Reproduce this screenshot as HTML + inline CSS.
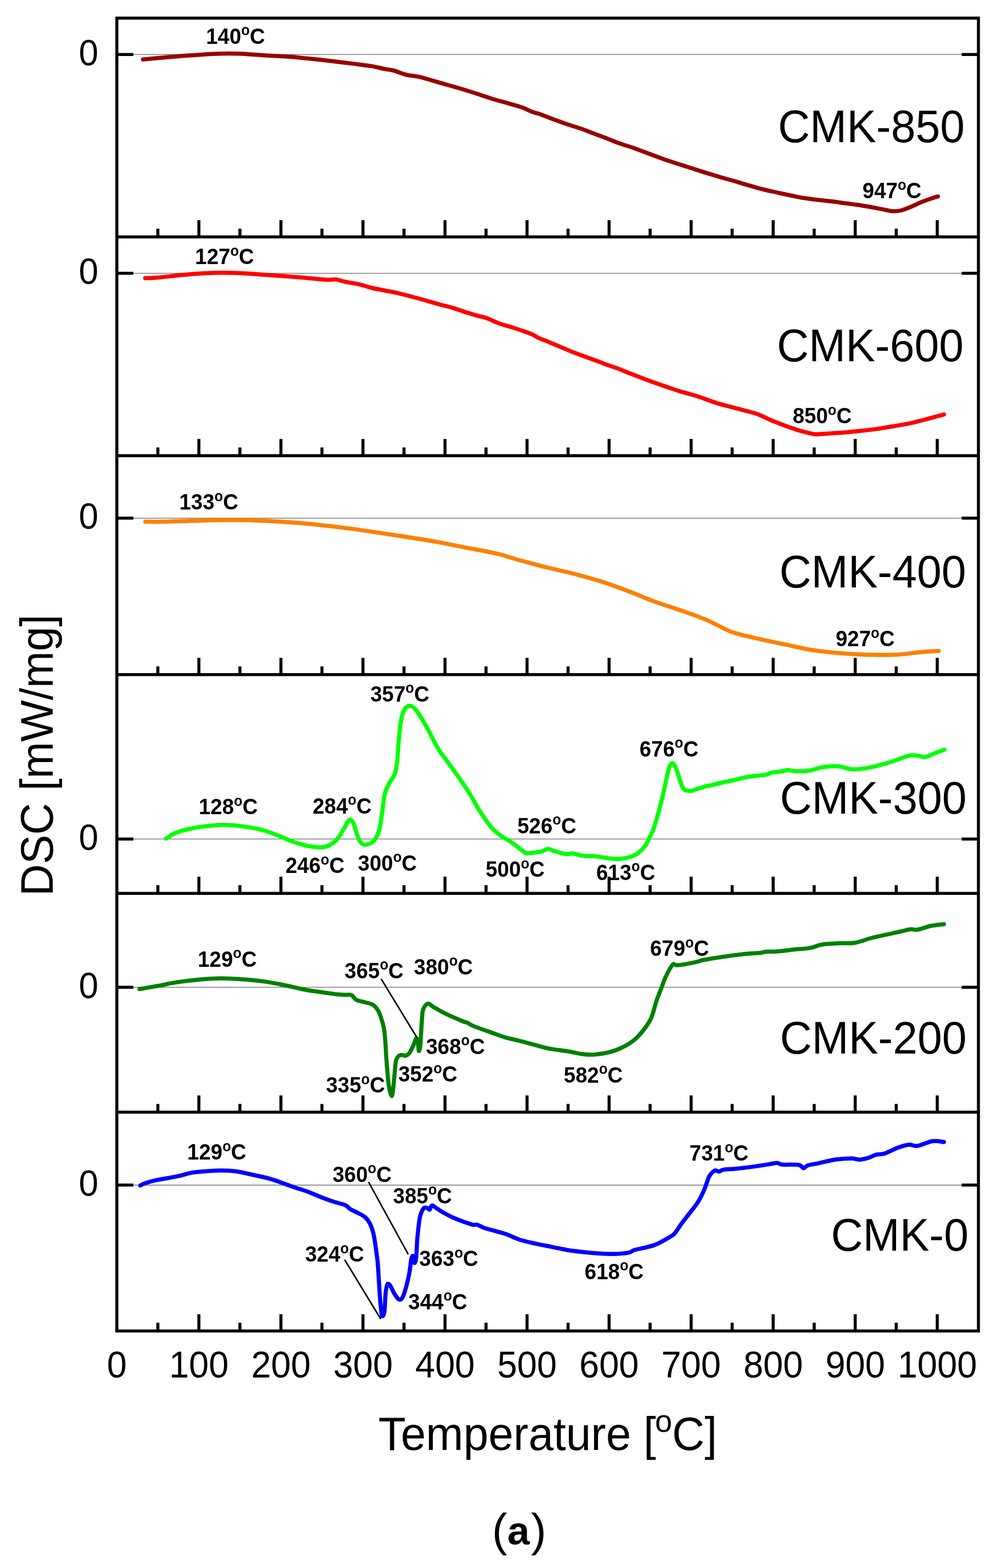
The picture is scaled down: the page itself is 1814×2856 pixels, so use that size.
<!DOCTYPE html><html><head><meta charset="utf-8"><title>DSC curves of CMK samples</title><style>html,body{margin:0;padding:0;background:#fff;}svg{display:block;}text{font-family:"Liberation Sans",Arial,sans-serif;}.b{font-weight:bold;font-size:39px;}</style></head><body><svg width="1814" height="2856" viewBox="0 0 1814 2856"><rect x="0" y="0" width="1814" height="2856" fill="#fff"/><line x1="212.8" y1="99.2" x2="1782.0" y2="99.2" stroke="#808080" stroke-width="1.6"/><line x1="212.8" y1="497.7" x2="1782.0" y2="497.7" stroke="#808080" stroke-width="1.6"/><line x1="212.8" y1="943.7" x2="1782.0" y2="943.7" stroke="#808080" stroke-width="1.6"/><line x1="212.8" y1="1528.2" x2="1782.0" y2="1528.2" stroke="#808080" stroke-width="1.6"/><line x1="212.8" y1="1798.2" x2="1782.0" y2="1798.2" stroke="#808080" stroke-width="1.6"/><line x1="212.8" y1="2158.6" x2="1782.0" y2="2158.6" stroke="#808080" stroke-width="1.6"/><path d="M260.5,108.3 C265.3,107.8 277.9,106.6 289.2,105.6 C300.5,104.6 315.4,103.2 328.5,102.2 C341.6,101.2 355.5,100.1 367.7,99.4 C379.9,98.7 390.8,98.1 401.7,97.8 C412.6,97.5 424.1,97.6 433.1,97.8 C442.2,98.0 448.2,98.5 456.0,99.0 C463.8,99.5 471.7,100.2 480.0,100.7 C488.3,101.2 497.3,101.6 506.0,102.1 C514.7,102.6 523.6,103.1 532.3,103.8 C541.0,104.5 549.3,105.4 558.0,106.3 C566.7,107.2 575.6,108.1 584.6,109.1 C593.6,110.1 602.8,111.1 612.0,112.2 C621.2,113.3 633.0,114.7 640.0,115.6 C647.0,116.5 647.9,116.7 654.2,117.5 C660.5,118.3 669.9,119.2 677.7,120.6 C685.6,122.0 694.8,124.5 701.3,125.8 C707.8,127.1 710.5,126.8 717.0,128.5 C723.5,130.2 732.7,134.4 740.5,136.3 C748.3,138.2 754.1,137.8 764.0,140.2 C773.9,142.5 785.8,146.3 800.0,150.4 C814.2,154.5 832.3,159.4 849.0,164.5 C865.7,169.6 887.1,177.0 900.0,181.0 C912.9,185.0 917.5,185.8 926.2,188.3 C934.9,190.8 945.3,193.7 952.3,196.2 C959.3,198.7 963.1,201.5 968.0,203.3 C972.9,205.2 975.5,205.2 981.6,207.3 C987.7,209.4 996.4,213.0 1004.6,216.0 C1012.8,219.0 1021.6,222.3 1030.8,225.5 C1040.0,228.7 1052.4,232.4 1060.0,235.0 C1067.6,237.6 1069.2,238.7 1076.2,241.3 C1083.2,244.0 1093.6,247.6 1102.3,250.9 C1111.0,254.2 1119.8,258.2 1128.5,261.3 C1137.2,264.4 1145.9,266.6 1154.6,269.7 C1163.3,272.8 1172.1,276.3 1180.8,279.6 C1189.5,282.9 1198.3,286.2 1207.0,289.3 C1215.7,292.4 1224.4,295.2 1233.1,298.0 C1241.8,300.8 1250.6,303.5 1259.3,306.3 C1268.0,309.1 1276.7,312.0 1285.4,314.7 C1294.1,317.4 1302.9,320.1 1311.6,322.6 C1320.3,325.1 1329.1,327.4 1337.8,329.9 C1346.5,332.4 1355.2,335.2 1363.9,337.7 C1372.6,340.2 1381.4,342.8 1390.1,345.0 C1398.8,347.2 1406.3,348.6 1416.3,350.8 C1426.3,353.0 1441.3,356.4 1450.0,358.1 C1458.7,359.9 1462.2,360.4 1468.3,361.3 C1474.4,362.2 1479.0,362.8 1486.6,363.7 C1494.2,364.6 1504.9,365.7 1514.1,366.8 C1523.3,367.9 1532.4,369.3 1541.6,370.5 C1550.8,371.7 1559.8,372.8 1569.0,374.2 C1578.2,375.6 1588.9,377.7 1596.5,379.1 C1604.1,380.5 1609.6,381.9 1614.8,382.8 C1620.0,383.8 1623.0,384.8 1627.6,384.8 C1632.2,384.8 1636.8,384.5 1642.3,383.0 C1647.8,381.5 1654.5,378.5 1660.6,376.0 C1666.7,373.5 1672.8,370.2 1678.9,367.8 C1685.0,365.4 1692.3,363.0 1697.2,361.3 C1702.1,359.6 1706.4,358.3 1708.2,357.7" fill="none" stroke="#980000" stroke-width="7.5" stroke-linecap="round" stroke-linejoin="round"/><path d="M264.4,506.7 C268.5,506.5 278.5,506.3 289.2,505.4 C299.9,504.5 315.4,502.4 328.5,501.2 C341.6,500.0 354.6,498.8 367.7,498.1 C380.8,497.4 393.9,496.8 407.0,496.8 C420.1,496.8 433.1,497.5 446.2,498.1 C459.3,498.8 472.3,499.8 485.4,500.7 C498.5,501.6 512.3,502.6 524.7,503.6 C537.1,504.6 548.4,505.5 560.0,506.5 C571.6,507.5 585.9,509.2 594.5,509.6 C603.1,510.0 606.7,508.7 611.8,509.1 C616.9,509.6 620.5,511.3 625.0,512.3 C629.5,513.3 633.6,514.2 638.5,515.1 C643.4,516.0 647.7,516.3 654.2,517.9 C660.7,519.5 670.1,522.6 677.7,524.5 C685.3,526.4 692.1,527.4 700.0,529.0 C707.9,530.6 714.1,531.4 724.8,533.9 C735.5,536.4 751.5,540.8 764.0,544.2 C776.5,547.6 790.1,551.7 800.0,554.4 C809.9,557.1 815.6,558.1 823.5,560.4 C831.4,562.7 839.2,565.8 847.1,568.3 C855.0,570.8 863.8,573.3 870.6,575.3 C877.4,577.2 882.7,578.2 887.9,580.0 C893.1,581.8 897.5,584.5 902.0,586.3 C906.5,588.1 909.4,589.3 914.6,591.0 C919.8,592.7 926.3,594.3 933.4,596.5 C940.5,598.7 951.0,602.3 957.0,604.4 C963.0,606.5 965.6,607.3 969.5,609.1 C973.4,610.9 976.0,613.2 980.5,615.3 C985.0,617.4 993.0,620.3 996.2,621.6 C999.5,622.9 995.5,621.3 1000.0,623.2 C1004.5,625.1 1015.6,629.7 1023.5,633.0 C1031.3,636.3 1039.2,639.7 1047.1,642.8 C1054.9,645.9 1062.8,648.5 1070.6,651.4 C1078.4,654.3 1089.3,658.2 1094.2,660.0 C1099.1,661.8 1095.1,660.6 1100.0,662.4 C1104.9,664.2 1115.7,667.7 1123.5,670.6 C1131.3,673.5 1139.2,677.0 1147.1,680.0 C1154.9,683.0 1162.8,685.9 1170.6,688.9 C1178.4,691.9 1186.3,694.9 1194.2,697.7 C1202.1,700.5 1209.9,703.2 1217.7,705.9 C1225.5,708.5 1232.6,711.0 1241.3,713.6 C1250.0,716.2 1259.3,718.4 1270.0,721.8 C1280.7,725.2 1293.5,730.5 1305.3,734.1 C1317.1,737.7 1328.8,740.5 1340.6,743.6 C1352.4,746.8 1368.2,750.6 1376.0,753.0 C1383.8,755.4 1381.8,755.2 1387.7,757.7 C1393.6,760.2 1400.9,764.2 1411.3,768.3 C1421.7,772.4 1440.3,779.2 1450.0,782.4 C1459.7,785.6 1463.4,786.3 1469.2,787.7 C1475.0,789.1 1478.4,790.7 1484.9,791.0 C1491.5,791.3 1499.7,790.2 1508.5,789.7 C1517.3,789.2 1528.1,788.5 1537.9,787.7 C1547.7,786.9 1557.5,785.8 1567.3,784.7 C1577.1,783.7 1587.0,782.8 1596.8,781.4 C1606.6,780.0 1616.4,778.2 1626.2,776.5 C1636.0,774.8 1645.8,773.5 1655.6,771.4 C1665.4,769.3 1674.5,766.9 1685.1,764.1 C1695.7,761.4 1713.7,756.4 1719.4,754.9" fill="none" stroke="#ff0000" stroke-width="7.5" stroke-linecap="round" stroke-linejoin="round"/><path d="M264.7,950.3 C270.4,950.3 285.1,950.6 299.0,950.3 C312.9,950.0 331.7,949.2 348.1,948.7 C364.5,948.2 380.9,947.6 397.2,947.4 C413.5,947.2 429.8,947.1 446.2,947.4 C462.6,947.7 479.0,948.4 495.3,949.3 C511.6,950.2 527.9,951.2 544.3,952.6 C560.6,954.0 577.0,955.7 593.4,957.5 C609.8,959.3 626.0,961.2 642.4,963.4 C658.8,965.6 673.6,967.9 691.5,970.6 C709.4,973.3 732.1,976.7 750.0,979.5 C767.9,982.3 782.6,984.6 799.0,987.6 C815.4,990.6 830.6,994.0 848.1,997.4 C865.6,1000.8 887.4,1004.4 903.7,1008.2 C920.1,1012.0 930.9,1016.1 946.2,1020.3 C961.5,1024.5 978.9,1029.3 995.3,1033.4 C1011.6,1037.5 1027.9,1040.6 1044.3,1044.8 C1060.7,1049.0 1077.1,1053.4 1093.4,1058.6 C1109.8,1063.8 1126.1,1069.8 1142.4,1075.9 C1158.8,1082.1 1173.6,1089.0 1191.5,1095.5 C1209.4,1102.0 1234.8,1109.9 1250.0,1115.2 C1265.2,1120.5 1272.9,1123.3 1282.7,1127.4 C1292.5,1131.5 1300.2,1135.7 1308.9,1139.8 C1317.6,1143.9 1323.0,1148.0 1335.0,1151.9 C1347.0,1155.8 1365.0,1159.7 1380.8,1163.4 C1396.6,1167.1 1413.6,1170.5 1429.9,1173.9 C1446.2,1177.3 1462.6,1181.4 1478.9,1184.0 C1495.2,1186.6 1511.7,1188.1 1528.0,1189.5 C1544.3,1190.9 1559.0,1192.0 1577.0,1192.5 C1595.0,1193.0 1619.6,1193.0 1635.9,1192.2 C1652.2,1191.4 1662.8,1189.0 1675.1,1187.9 C1687.4,1186.8 1703.8,1186.0 1709.5,1185.6" fill="none" stroke="#ff8000" stroke-width="7.5" stroke-linecap="round" stroke-linejoin="round"/><path d="M301.8,1527.4 C302.7,1527.0 305.1,1526.3 307.0,1525.0 C308.9,1523.7 309.8,1521.7 313.5,1519.8 C317.2,1517.9 322.2,1515.8 329.2,1513.8 C336.2,1511.8 346.7,1509.4 355.4,1507.8 C364.1,1506.2 373.8,1505.0 381.6,1504.1 C389.5,1503.2 395.1,1502.6 402.5,1502.5 C409.9,1502.4 417.7,1502.6 426.0,1503.3 C434.3,1504.0 443.5,1505.2 452.2,1506.7 C460.9,1508.2 469.7,1509.6 478.4,1512.0 C487.1,1514.4 495.8,1517.6 504.5,1520.9 C513.2,1524.2 522.0,1528.9 530.7,1532.1 C539.4,1535.3 548.1,1538.1 556.8,1540.0 C565.5,1541.9 576.0,1543.4 583.0,1543.4 C590.0,1543.4 593.5,1542.5 598.7,1540.0 C603.9,1537.5 609.6,1533.7 614.4,1528.2 C619.2,1522.8 623.8,1513.2 627.5,1507.3 C631.2,1501.4 633.9,1494.3 636.6,1493.0 C639.3,1491.7 641.7,1495.1 643.9,1499.4 C646.1,1503.7 647.8,1513.5 649.8,1519.0 C651.8,1524.5 653.4,1529.4 655.7,1532.7 C658.0,1536.0 660.2,1538.1 663.5,1538.6 C666.8,1539.1 672.0,1537.3 675.3,1535.7 C678.6,1534.1 680.6,1532.9 683.2,1528.8 C685.8,1524.7 688.8,1519.8 691.0,1511.0 C693.2,1502.2 694.9,1486.8 696.5,1476.0 C698.1,1465.2 698.8,1454.6 700.8,1446.4 C702.8,1438.2 705.8,1432.7 708.7,1426.8 C711.7,1420.9 716.0,1417.6 718.5,1411.1 C721.0,1404.5 722.1,1398.0 723.4,1387.5 C724.7,1377.0 725.1,1360.7 726.3,1348.3 C727.4,1335.9 728.7,1322.2 730.3,1313.0 C731.9,1303.8 733.5,1298.0 736.1,1293.4 C738.7,1288.8 742.4,1285.5 746.0,1285.5 C749.6,1285.5 752.5,1286.9 757.7,1293.4 C762.9,1299.9 770.8,1313.3 777.3,1324.7 C783.8,1336.1 790.5,1351.2 797.0,1362.0 C803.5,1372.8 810.1,1380.3 816.6,1389.5 C823.1,1398.7 829.7,1407.5 836.2,1417.0 C842.7,1426.5 849.3,1435.9 855.8,1446.4 C862.3,1456.9 868.8,1469.7 875.4,1479.8 C882.0,1489.9 888.8,1500.0 895.1,1507.2 C901.4,1514.4 907.9,1518.9 913.1,1522.8 C918.3,1526.7 921.9,1527.8 926.2,1530.6 C930.6,1533.4 934.9,1536.5 939.2,1539.8 C943.6,1543.1 948.8,1547.9 952.3,1550.3 C955.8,1552.7 955.8,1553.9 960.2,1554.2 C964.6,1554.5 974.1,1552.6 978.5,1552.1 C982.9,1551.6 983.0,1552.0 986.3,1551.0 C989.6,1550.0 994.2,1546.4 998.1,1546.3 C1002.0,1546.2 1004.5,1548.8 1009.9,1550.3 C1015.3,1551.8 1025.1,1554.8 1030.8,1555.5 C1036.5,1556.2 1038.7,1554.1 1043.9,1554.7 C1049.1,1555.3 1055.7,1558.1 1062.2,1558.9 C1068.7,1559.7 1076.1,1558.8 1083.1,1559.4 C1090.1,1560.1 1096.7,1561.9 1104.1,1562.8 C1111.5,1563.7 1120.2,1564.9 1127.6,1564.6 C1135.0,1564.2 1142.8,1562.4 1148.5,1560.7 C1154.2,1559.0 1157.2,1557.5 1161.6,1554.2 C1166.0,1550.9 1171.2,1545.7 1174.7,1541.1 C1178.2,1536.5 1179.9,1531.9 1182.5,1526.7 C1185.1,1521.5 1187.8,1516.9 1190.4,1509.7 C1193.0,1502.5 1196.4,1489.6 1198.2,1483.5 C1200.0,1477.4 1199.2,1480.0 1201.0,1473.0 C1202.8,1466.0 1206.6,1451.4 1208.9,1441.6 C1211.2,1431.8 1212.9,1421.9 1214.7,1414.2 C1216.5,1406.5 1218.1,1399.5 1219.7,1395.5 C1221.3,1391.5 1223.0,1390.0 1224.6,1390.0 C1226.2,1390.0 1227.9,1392.5 1229.5,1395.5 C1231.1,1398.5 1232.6,1403.1 1234.4,1408.3 C1236.2,1413.5 1238.3,1422.0 1240.3,1426.9 C1242.2,1431.8 1243.2,1435.4 1246.1,1437.7 C1249.0,1440.0 1254.3,1440.7 1257.9,1440.7 C1261.5,1440.7 1263.5,1439.0 1267.7,1437.7 C1272.0,1436.4 1278.5,1434.1 1283.4,1432.8 C1288.3,1431.5 1291.6,1431.2 1297.2,1429.9 C1302.8,1428.6 1310.3,1426.5 1316.8,1425.0 C1323.3,1423.5 1329.9,1422.5 1336.4,1421.0 C1342.9,1419.5 1349.5,1417.4 1356.0,1416.1 C1362.5,1414.8 1369.0,1414.0 1375.6,1413.2 C1382.1,1412.4 1390.4,1412.2 1395.3,1411.2 C1400.2,1410.2 1400.2,1408.4 1405.1,1407.3 C1410.0,1406.2 1419.8,1405.6 1424.7,1404.8 C1429.6,1404.0 1430.3,1402.4 1434.5,1402.4 C1438.7,1402.4 1443.1,1404.5 1449.6,1404.7 C1456.0,1404.9 1465.0,1405.0 1473.2,1403.8 C1481.4,1402.6 1489.6,1398.6 1498.7,1397.3 C1507.8,1396.0 1519.3,1395.2 1528.1,1395.9 C1536.9,1396.6 1543.4,1400.6 1551.6,1401.2 C1559.8,1401.8 1569.0,1400.6 1577.2,1399.4 C1585.4,1398.2 1592.5,1396.1 1600.7,1394.0 C1608.9,1391.9 1617.1,1389.7 1626.2,1386.7 C1635.3,1383.8 1648.1,1378.0 1655.6,1376.3 C1663.1,1374.6 1666.4,1375.9 1671.3,1376.3 C1676.2,1376.7 1679.5,1379.7 1685.1,1378.8 C1690.7,1377.9 1698.8,1373.2 1704.7,1371.0 C1710.6,1368.8 1717.8,1366.4 1720.4,1365.5" fill="none" stroke="#00ff00" stroke-width="7.5" stroke-linecap="round" stroke-linejoin="round"/><path d="M254.2,1801.5 C259.2,1800.6 272.6,1798.4 284.2,1796.3 C295.8,1794.2 310.4,1790.9 323.5,1788.9 C336.6,1786.9 349.6,1785.3 362.7,1784.2 C375.8,1783.1 388.9,1782.2 402.0,1782.1 C415.1,1782.0 428.1,1782.8 441.2,1783.7 C454.3,1784.6 467.3,1785.8 480.4,1787.6 C493.5,1789.4 506.6,1792.1 519.7,1794.7 C532.8,1797.3 545.5,1800.9 558.9,1803.3 C572.3,1805.7 591.0,1807.8 600.0,1809.1 C609.0,1810.4 608.7,1810.6 613.1,1811.1 C617.5,1811.6 621.9,1811.9 626.2,1812.1 C630.6,1812.3 636.2,1811.3 639.2,1812.1 C642.2,1812.9 642.8,1815.4 644.5,1817.0 C646.2,1818.6 647.3,1820.4 649.7,1821.6 C652.1,1822.8 655.2,1823.2 658.9,1824.2 C662.6,1825.2 668.2,1826.3 671.9,1827.5 C675.6,1828.7 678.3,1829.1 681.1,1831.4 C683.9,1833.7 686.7,1837.4 688.9,1841.2 C691.1,1845.0 692.5,1848.8 694.2,1854.3 C696.0,1859.8 698.1,1866.3 699.4,1873.9 C700.7,1881.5 701.3,1891.3 702.0,1900.0 C702.7,1908.7 702.9,1917.3 703.5,1926.0 C704.1,1934.7 704.8,1943.2 705.6,1952.0 C706.4,1960.8 707.0,1971.1 708.3,1978.5 C709.6,1985.9 712.1,1996.5 713.5,1996.5 C714.9,1996.5 715.7,1985.9 716.6,1978.5 C717.5,1971.1 718.2,1959.8 719.0,1952.0 C719.8,1944.2 720.1,1936.2 721.3,1931.4 C722.5,1926.7 724.2,1925.2 726.0,1923.5 C727.8,1921.8 730.2,1921.6 732.3,1921.5 C734.4,1921.4 736.6,1923.4 738.7,1922.9 C740.9,1922.4 743.0,1921.1 745.2,1918.4 C747.4,1915.7 749.9,1910.5 751.7,1906.6 C753.6,1902.7 755.1,1897.3 756.3,1894.8 C757.5,1892.3 758.0,1890.2 758.9,1891.5 C759.8,1892.8 760.8,1898.9 761.5,1902.7 C762.2,1906.5 762.2,1914.2 762.9,1914.4 C763.6,1914.6 764.8,1910.8 765.5,1904.0 C766.2,1897.2 766.9,1882.2 767.4,1873.9 C767.9,1865.6 768.2,1860.2 768.7,1854.3 C769.2,1848.4 769.0,1843.0 770.7,1838.6 C772.5,1834.2 776.0,1828.8 779.2,1828.1 C782.4,1827.4 784.5,1831.4 790.0,1834.5 C795.5,1837.6 803.5,1842.5 812.2,1846.7 C820.9,1851.0 835.8,1857.3 842.3,1860.0 C848.8,1862.7 847.9,1861.3 851.2,1862.8 C854.5,1864.3 855.8,1866.2 862.3,1868.9 C868.8,1871.6 880.8,1875.6 890.1,1878.9 C899.4,1882.2 908.6,1886.1 917.9,1888.9 C927.2,1891.7 933.7,1892.5 945.7,1895.6 C957.7,1898.7 979.0,1904.9 989.9,1907.6 C1000.8,1910.3 1002.9,1910.3 1010.8,1911.6 C1018.6,1912.9 1028.3,1914.1 1037.0,1915.5 C1045.7,1916.9 1055.2,1919.3 1063.1,1920.2 C1070.9,1921.1 1076.2,1921.4 1084.1,1920.7 C1091.9,1920.0 1102.4,1918.3 1110.2,1916.3 C1118.0,1914.3 1123.7,1912.5 1131.1,1908.9 C1138.5,1905.3 1147.7,1900.3 1154.7,1894.6 C1161.7,1888.9 1167.8,1881.7 1173.0,1874.9 C1178.2,1868.1 1182.3,1862.7 1186.1,1854.0 C1189.9,1845.3 1192.5,1832.4 1195.7,1822.9 C1198.9,1813.5 1202.9,1804.2 1205.5,1797.3 C1208.1,1790.4 1209.1,1786.8 1211.4,1781.6 C1213.7,1776.4 1216.8,1770.2 1219.2,1766.0 C1221.7,1761.8 1224.0,1757.4 1226.1,1756.1 C1228.2,1754.8 1228.2,1758.1 1232.0,1758.1 C1235.8,1758.1 1242.7,1757.1 1248.7,1756.1 C1254.8,1755.1 1263.1,1753.4 1268.3,1752.2 C1273.5,1751.0 1273.0,1750.2 1280.0,1748.8 C1287.0,1747.4 1297.6,1745.5 1310.1,1743.7 C1322.6,1741.9 1342.7,1739.1 1355.2,1737.7 C1367.7,1736.3 1378.8,1736.3 1385.3,1735.6 C1391.8,1734.9 1389.3,1733.8 1394.3,1733.4 C1399.3,1733.0 1406.9,1733.6 1415.4,1733.0 C1423.9,1732.4 1435.5,1730.7 1445.5,1729.6 C1455.5,1728.5 1467.0,1728.1 1475.5,1726.6 C1484.0,1725.1 1487.6,1721.9 1496.6,1720.5 C1505.6,1719.1 1519.7,1718.6 1529.7,1718.1 C1539.7,1717.6 1547.3,1718.9 1556.8,1717.3 C1566.3,1715.7 1577.9,1710.9 1586.9,1708.5 C1595.9,1706.1 1601.9,1705.1 1610.9,1703.1 C1619.9,1701.1 1633.0,1698.2 1641.0,1696.5 C1649.0,1694.8 1654.1,1693.1 1659.1,1692.6 C1664.1,1692.1 1665.1,1694.3 1671.1,1693.3 C1677.1,1692.3 1687.2,1688.2 1695.2,1686.5 C1703.2,1684.8 1715.2,1683.8 1719.2,1683.3" fill="none" stroke="#008000" stroke-width="7.5" stroke-linecap="round" stroke-linejoin="round"/><path d="M255.5,2159.4 C256.8,2158.8 258.5,2157.1 263.3,2155.5 C268.1,2153.9 274.2,2151.9 284.2,2149.7 C294.2,2147.5 312.6,2144.7 323.5,2142.4 C334.4,2140.1 340.9,2137.4 349.6,2135.9 C358.3,2134.4 367.1,2134.0 375.8,2133.3 C384.5,2132.6 393.3,2131.9 402.0,2131.9 C410.7,2131.9 419.4,2132.2 428.1,2133.3 C436.8,2134.4 443.4,2136.1 454.3,2138.5 C465.2,2140.9 480.4,2143.8 493.5,2147.6 C506.6,2151.4 521.3,2157.6 532.8,2161.5 C544.2,2165.4 553.6,2168.0 562.2,2171.2 C570.8,2174.4 577.1,2177.6 584.5,2180.5 C591.9,2183.4 599.3,2186.1 606.7,2188.5 C614.1,2190.9 623.8,2192.9 629.0,2195.2 C634.2,2197.5 634.1,2200.0 637.8,2202.3 C641.5,2204.6 646.8,2206.6 651.2,2209.0 C655.7,2211.4 660.8,2213.5 664.5,2216.7 C668.2,2219.8 670.8,2222.9 673.4,2227.9 C676.0,2232.9 678.2,2239.2 680.1,2246.8 C682.0,2254.4 683.2,2264.5 684.5,2273.4 C685.8,2282.3 687.0,2290.1 687.9,2300.1 C688.8,2310.1 689.4,2322.4 690.1,2333.5 C690.8,2344.6 691.4,2356.4 692.3,2366.8 C693.2,2377.2 694.4,2392.3 695.7,2396.0 C697.0,2399.7 699.0,2395.8 700.1,2389.1 C701.2,2382.4 701.4,2364.0 702.3,2355.7 C703.2,2347.3 704.2,2341.2 705.7,2339.0 C707.2,2336.8 709.2,2339.6 711.2,2342.4 C713.2,2345.2 715.3,2351.6 717.9,2355.7 C720.5,2359.8 724.2,2365.9 726.8,2367.0 C729.4,2368.1 731.3,2366.5 733.5,2362.4 C735.7,2358.3 738.1,2349.8 740.1,2342.4 C742.1,2335.0 744.2,2326.1 745.7,2317.9 C747.2,2309.8 747.9,2298.5 749.0,2293.5 C750.1,2288.5 751.5,2286.8 752.4,2287.9 C753.3,2289.1 753.7,2299.9 754.6,2300.4 C755.5,2300.9 757.0,2298.6 757.9,2291.2 C758.8,2283.8 759.0,2267.9 760.1,2255.7 C761.2,2243.5 762.7,2227.0 764.6,2217.9 C766.5,2208.8 769.1,2204.2 771.3,2201.2 C773.5,2198.2 776.0,2199.7 777.9,2200.1 C779.8,2200.5 780.9,2204.2 782.4,2203.4 C783.9,2202.7 784.6,2196.0 786.8,2195.6 C789.0,2195.2 792.4,2199.1 795.7,2201.2 C799.0,2203.3 801.5,2205.3 806.8,2208.2 C812.1,2211.1 818.7,2215.1 827.5,2218.8 C836.3,2222.5 852.6,2228.3 859.5,2230.3 C866.4,2232.3 864.9,2229.6 868.7,2230.7 C872.5,2231.8 876.3,2234.6 882.4,2236.7 C888.5,2238.8 898.4,2241.1 905.3,2243.1 C912.2,2245.1 916.8,2246.1 923.6,2248.6 C930.4,2251.1 937.7,2255.2 946.3,2258.0 C954.9,2260.8 965.5,2263.0 975.1,2265.2 C984.7,2267.3 994.3,2269.0 1003.9,2270.9 C1013.5,2272.8 1023.1,2275.1 1032.7,2276.7 C1042.3,2278.3 1051.8,2279.3 1061.4,2280.4 C1071.0,2281.5 1080.6,2282.4 1090.2,2283.0 C1099.8,2283.6 1109.9,2284.1 1119.0,2283.9 C1128.1,2283.7 1138.7,2282.8 1144.9,2281.6 C1151.1,2280.4 1148.7,2278.9 1156.4,2276.7 C1164.1,2274.4 1181.3,2271.5 1190.9,2268.1 C1200.5,2264.7 1207.8,2260.0 1214.0,2256.5 C1220.2,2253.0 1224.0,2251.4 1228.3,2247.1 C1232.6,2242.8 1235.6,2236.5 1239.9,2230.6 C1244.2,2224.7 1248.9,2218.8 1254.2,2211.9 C1259.5,2205.0 1266.7,2196.6 1271.5,2188.9 C1276.3,2181.2 1279.7,2173.4 1283.0,2165.9 C1286.3,2158.4 1288.8,2148.8 1291.2,2143.7 C1293.7,2138.6 1295.7,2137.2 1297.7,2135.2 C1299.7,2133.2 1301.0,2131.9 1303.0,2131.7 C1305.0,2131.5 1307.1,2134.1 1309.5,2133.9 C1311.9,2133.7 1312.2,2131.5 1317.3,2130.6 C1322.4,2129.7 1331.4,2129.6 1340.2,2128.7 C1349.0,2127.8 1360.3,2126.4 1370.3,2125.1 C1380.3,2123.8 1392.8,2121.8 1400.3,2120.6 C1407.8,2119.4 1411.4,2118.1 1415.4,2118.2 C1419.4,2118.3 1417.9,2120.6 1424.4,2121.2 C1430.9,2121.8 1448.0,2120.7 1454.5,2121.8 C1461.0,2122.9 1460.8,2127.7 1463.5,2127.8 C1466.2,2128.0 1466.5,2124.2 1471.0,2122.7 C1475.5,2121.2 1482.3,2120.6 1490.6,2118.8 C1498.9,2117.1 1510.7,2113.6 1520.7,2112.2 C1530.7,2110.8 1543.3,2110.1 1550.8,2110.1 C1558.3,2110.1 1560.8,2112.3 1565.8,2112.2 C1570.8,2112.0 1575.8,2110.7 1580.8,2109.2 C1585.8,2107.7 1590.9,2104.5 1595.9,2103.2 C1600.9,2101.8 1604.4,2103.2 1610.9,2101.1 C1617.4,2099.0 1627.5,2093.2 1635.0,2090.5 C1642.5,2087.8 1650.0,2085.7 1656.0,2085.1 C1662.0,2084.5 1664.1,2088.3 1671.1,2087.2 C1678.1,2086.1 1690.2,2079.7 1698.2,2078.5 C1706.2,2077.3 1715.7,2079.8 1719.2,2080.0" fill="none" stroke="#0000ff" stroke-width="7.5" stroke-linecap="round" stroke-linejoin="round"/><line x1="694.2" y1="1783" x2="759.6" y2="1890.2" stroke="#000" stroke-width="2.8"/><line x1="671.2" y1="2152.9" x2="743.5" y2="2284.6" stroke="#000" stroke-width="2.8"/><line x1="627.8" y1="2294.6" x2="693.4" y2="2402.4" stroke="#000" stroke-width="2.8"/><rect x="212.8" y="33.0" width="1569.2" height="2391.3" fill="none" stroke="#000" stroke-width="5.5"/><line x1="212.8" y1="431.55" x2="1782.0" y2="431.55" stroke="#000" stroke-width="5.5"/><line x1="212.8" y1="830.10" x2="1782.0" y2="830.10" stroke="#000" stroke-width="5.5"/><line x1="212.8" y1="1228.65" x2="1782.0" y2="1228.65" stroke="#000" stroke-width="5.5"/><line x1="212.8" y1="1627.20" x2="1782.0" y2="1627.20" stroke="#000" stroke-width="5.5"/><line x1="212.8" y1="2025.75" x2="1782.0" y2="2025.75" stroke="#000" stroke-width="5.5"/><path d="M287.51,431.55V416.55M362.22,431.55V401.05M436.93,431.55V416.55M511.64,431.55V401.05M586.35,431.55V416.55M661.06,431.55V401.05M735.77,431.55V416.55M810.48,431.55V401.05M885.19,431.55V416.55M959.90,431.55V401.05M1034.61,431.55V416.55M1109.32,431.55V401.05M1184.03,431.55V416.55M1258.74,431.55V401.05M1333.45,431.55V416.55M1408.16,431.55V401.05M1482.87,431.55V416.55M1557.58,431.55V401.05M1632.29,431.55V416.55M1707.00,431.55V401.05M287.51,830.10V815.10M362.22,830.10V799.60M436.93,830.10V815.10M511.64,830.10V799.60M586.35,830.10V815.10M661.06,830.10V799.60M735.77,830.10V815.10M810.48,830.10V799.60M885.19,830.10V815.10M959.90,830.10V799.60M1034.61,830.10V815.10M1109.32,830.10V799.60M1184.03,830.10V815.10M1258.74,830.10V799.60M1333.45,830.10V815.10M1408.16,830.10V799.60M1482.87,830.10V815.10M1557.58,830.10V799.60M1632.29,830.10V815.10M1707.00,830.10V799.60M287.51,1228.65V1213.65M362.22,1228.65V1198.15M436.93,1228.65V1213.65M511.64,1228.65V1198.15M586.35,1228.65V1213.65M661.06,1228.65V1198.15M735.77,1228.65V1213.65M810.48,1228.65V1198.15M885.19,1228.65V1213.65M959.90,1228.65V1198.15M1034.61,1228.65V1213.65M1109.32,1228.65V1198.15M1184.03,1228.65V1213.65M1258.74,1228.65V1198.15M1333.45,1228.65V1213.65M1408.16,1228.65V1198.15M1482.87,1228.65V1213.65M1557.58,1228.65V1198.15M1632.29,1228.65V1213.65M1707.00,1228.65V1198.15M287.51,1627.20V1612.20M362.22,1627.20V1596.70M436.93,1627.20V1612.20M511.64,1627.20V1596.70M586.35,1627.20V1612.20M661.06,1627.20V1596.70M735.77,1627.20V1612.20M810.48,1627.20V1596.70M885.19,1627.20V1612.20M959.90,1627.20V1596.70M1034.61,1627.20V1612.20M1109.32,1627.20V1596.70M1184.03,1627.20V1612.20M1258.74,1627.20V1596.70M1333.45,1627.20V1612.20M1408.16,1627.20V1596.70M1482.87,1627.20V1612.20M1557.58,1627.20V1596.70M1632.29,1627.20V1612.20M1707.00,1627.20V1596.70M287.51,2025.75V2010.75M362.22,2025.75V1995.25M436.93,2025.75V2010.75M511.64,2025.75V1995.25M586.35,2025.75V2010.75M661.06,2025.75V1995.25M735.77,2025.75V2010.75M810.48,2025.75V1995.25M885.19,2025.75V2010.75M959.90,2025.75V1995.25M1034.61,2025.75V2010.75M1109.32,2025.75V1995.25M1184.03,2025.75V2010.75M1258.74,2025.75V1995.25M1333.45,2025.75V2010.75M1408.16,2025.75V1995.25M1482.87,2025.75V2010.75M1557.58,2025.75V1995.25M1632.29,2025.75V2010.75M1707.00,2025.75V1995.25M287.51,2424.30V2409.30M362.22,2424.30V2393.80M436.93,2424.30V2409.30M511.64,2424.30V2393.80M586.35,2424.30V2409.30M661.06,2424.30V2393.80M735.77,2424.30V2409.30M810.48,2424.30V2393.80M885.19,2424.30V2409.30M959.90,2424.30V2393.80M1034.61,2424.30V2409.30M1109.32,2424.30V2393.80M1184.03,2424.30V2409.30M1258.74,2424.30V2393.80M1333.45,2424.30V2409.30M1408.16,2424.30V2393.80M1482.87,2424.30V2409.30M1557.58,2424.30V2393.80M1632.29,2424.30V2409.30M1707.00,2424.30V2393.80" stroke="#000" stroke-width="5.5" fill="none"/><path d="M212.8,99.2H242.8M1782.0,99.2H1751.5M212.8,497.7H242.8M1782.0,497.7H1751.5M212.8,943.7H242.8M1782.0,943.7H1751.5M212.8,1528.2H242.8M1782.0,1528.2H1751.5M212.8,1798.2H242.8M1782.0,1798.2H1751.5M212.8,2158.6H242.8M1782.0,2158.6H1751.5" stroke="#000" stroke-width="5.5" fill="none"/><text transform="translate(143.5,118.5) scale(1,1.04)" font-size="64">0</text><text transform="translate(143.5,517.0) scale(1,1.04)" font-size="64">0</text><text transform="translate(143.5,963.0) scale(1,1.04)" font-size="64">0</text><text transform="translate(143.5,1547.5) scale(1,1.04)" font-size="64">0</text><text transform="translate(143.5,1817.5) scale(1,1.04)" font-size="64">0</text><text transform="translate(143.5,2177.9) scale(1,1.04)" font-size="64">0</text><text transform="translate(212.8,2509.0) scale(1,1.04)" font-size="65" text-anchor="middle">0</text><text transform="translate(362.2,2509.0) scale(1,1.04)" font-size="65" text-anchor="middle">100</text><text transform="translate(511.6,2509.0) scale(1,1.04)" font-size="65" text-anchor="middle">200</text><text transform="translate(661.1,2509.0) scale(1,1.04)" font-size="65" text-anchor="middle">300</text><text transform="translate(810.5,2509.0) scale(1,1.04)" font-size="65" text-anchor="middle">400</text><text transform="translate(959.9,2509.0) scale(1,1.04)" font-size="65" text-anchor="middle">500</text><text transform="translate(1109.3,2509.0) scale(1,1.04)" font-size="65" text-anchor="middle">600</text><text transform="translate(1258.7,2509.0) scale(1,1.04)" font-size="65" text-anchor="middle">700</text><text transform="translate(1408.2,2509.0) scale(1,1.04)" font-size="65" text-anchor="middle">800</text><text transform="translate(1557.6,2509.0) scale(1,1.04)" font-size="65" text-anchor="middle">900</text><text transform="translate(1707.0,2509.0) scale(1,1.04)" font-size="65" text-anchor="middle">1000</text><text transform="translate(689.0,2641.4) scale(1,1.04)" font-size="82">Temperature [<tspan x="504" y="-31.8" font-size="56">o</tspan><tspan x="535" y="0">C]</tspan></text><text transform="translate(95.7,1632.0) rotate(-90) scale(1,1.04)" font-size="80.3">DSC [mW/mg]</text><text x="896" y="2816" font-size="84" font-family="'Liberation Serif','Times New Roman',serif">(<tspan font-weight="bold" font-size="73" dy="-2.8">a</tspan><tspan dy="2.8" dx="2.5">)</tspan></text><text transform="translate(1417.0,258.5) scale(1,1.04)" font-size="80.5">CMK-850</text><text transform="translate(1415.0,657.7) scale(1,1.04)" font-size="80.5">CMK-600</text><text transform="translate(1419.5,1070.3) scale(1,1.04)" font-size="80.5">CMK-400</text><text transform="translate(1420.5,1482.4) scale(1,1.04)" font-size="80.5">CMK-300</text><text transform="translate(1420.5,1919.0) scale(1,1.04)" font-size="80.5">CMK-200</text><text transform="translate(1513.5,2277.5) scale(1,1.04)" font-size="80.5">CMK-0</text><text transform="translate(375.2,79.8) scale(0.985,1.04)" class="b">140<tspan font-size="26" dy="-15">o</tspan><tspan dy="15">C</tspan></text><text transform="translate(1570.8,361.3) scale(0.985,1.04)" class="b">947<tspan font-size="26" dy="-15">o</tspan><tspan dy="15">C</tspan></text><text transform="translate(355.3,481.1) scale(0.985,1.04)" class="b">127<tspan font-size="26" dy="-15">o</tspan><tspan dy="15">C</tspan></text><text transform="translate(1443.7,771.4) scale(0.985,1.04)" class="b">850<tspan font-size="26" dy="-15">o</tspan><tspan dy="15">C</tspan></text><text transform="translate(326.5,928.4) scale(0.985,1.04)" class="b">133<tspan font-size="26" dy="-15">o</tspan><tspan dy="15">C</tspan></text><text transform="translate(1522.0,1177.1) scale(0.985,1.04)" class="b">927<tspan font-size="26" dy="-15">o</tspan><tspan dy="15">C</tspan></text><text transform="translate(362.0,1483.2) scale(0.985,1.04)" class="b">128<tspan font-size="26" dy="-15">o</tspan><tspan dy="15">C</tspan></text><text transform="translate(569.4,1481.9) scale(0.985,1.04)" class="b">284<tspan font-size="26" dy="-15">o</tspan><tspan dy="15">C</tspan></text><text transform="translate(520.0,1590.2) scale(0.985,1.04)" class="b">246<tspan font-size="26" dy="-15">o</tspan><tspan dy="15">C</tspan></text><text transform="translate(651.8,1585.7) scale(0.985,1.04)" class="b">300<tspan font-size="26" dy="-15">o</tspan><tspan dy="15">C</tspan></text><text transform="translate(674.5,1277.9) scale(0.985,1.04)" class="b">357<tspan font-size="26" dy="-15">o</tspan><tspan dy="15">C</tspan></text><text transform="translate(942.2,1517.6) scale(0.985,1.04)" class="b">526<tspan font-size="26" dy="-15">o</tspan><tspan dy="15">C</tspan></text><text transform="translate(884.5,1597.2) scale(0.985,1.04)" class="b">500<tspan font-size="26" dy="-15">o</tspan><tspan dy="15">C</tspan></text><text transform="translate(1086.0,1602.6) scale(0.985,1.04)" class="b">613<tspan font-size="26" dy="-15">o</tspan><tspan dy="15">C</tspan></text><text transform="translate(1164.7,1377.9) scale(0.985,1.04)" class="b">676<tspan font-size="26" dy="-15">o</tspan><tspan dy="15">C</tspan></text><text transform="translate(360.2,1760.7) scale(0.985,1.04)" class="b">129<tspan font-size="26" dy="-15">o</tspan><tspan dy="15">C</tspan></text><text transform="translate(627.6,1781.9) scale(0.985,1.04)" class="b">365<tspan font-size="26" dy="-15">o</tspan><tspan dy="15">C</tspan></text><text transform="translate(753.8,1774.9) scale(0.985,1.04)" class="b">380<tspan font-size="26" dy="-15">o</tspan><tspan dy="15">C</tspan></text><text transform="translate(775.7,1919.9) scale(0.985,1.04)" class="b">368<tspan font-size="26" dy="-15">o</tspan><tspan dy="15">C</tspan></text><text transform="translate(725.5,1970.3) scale(0.985,1.04)" class="b">352<tspan font-size="26" dy="-15">o</tspan><tspan dy="15">C</tspan></text><text transform="translate(593.7,1990.3) scale(0.985,1.04)" class="b">335<tspan font-size="26" dy="-15">o</tspan><tspan dy="15">C</tspan></text><text transform="translate(1026.8,1971.7) scale(0.985,1.04)" class="b">582<tspan font-size="26" dy="-15">o</tspan><tspan dy="15">C</tspan></text><text transform="translate(1183.9,1741.4) scale(0.985,1.04)" class="b">679<tspan font-size="26" dy="-15">o</tspan><tspan dy="15">C</tspan></text><text transform="translate(341.1,2112.3) scale(0.985,1.04)" class="b">129<tspan font-size="26" dy="-15">o</tspan><tspan dy="15">C</tspan></text><text transform="translate(605.7,2152.9) scale(0.985,1.04)" class="b">360<tspan font-size="26" dy="-15">o</tspan><tspan dy="15">C</tspan></text><text transform="translate(715.8,2191.6) scale(0.985,1.04)" class="b">385<tspan font-size="26" dy="-15">o</tspan><tspan dy="15">C</tspan></text><text transform="translate(555.7,2298.4) scale(0.985,1.04)" class="b">324<tspan font-size="26" dy="-15">o</tspan><tspan dy="15">C</tspan></text><text transform="translate(763.6,2306.4) scale(0.985,1.04)" class="b">363<tspan font-size="26" dy="-15">o</tspan><tspan dy="15">C</tspan></text><text transform="translate(743.6,2384.6) scale(0.985,1.04)" class="b">344<tspan font-size="26" dy="-15">o</tspan><tspan dy="15">C</tspan></text><text transform="translate(1064.8,2329.9) scale(0.985,1.04)" class="b">618<tspan font-size="26" dy="-15">o</tspan><tspan dy="15">C</tspan></text><text transform="translate(1255.8,2114.3) scale(0.985,1.04)" class="b">731<tspan font-size="26" dy="-15">o</tspan><tspan dy="15">C</tspan></text></svg></body></html>
